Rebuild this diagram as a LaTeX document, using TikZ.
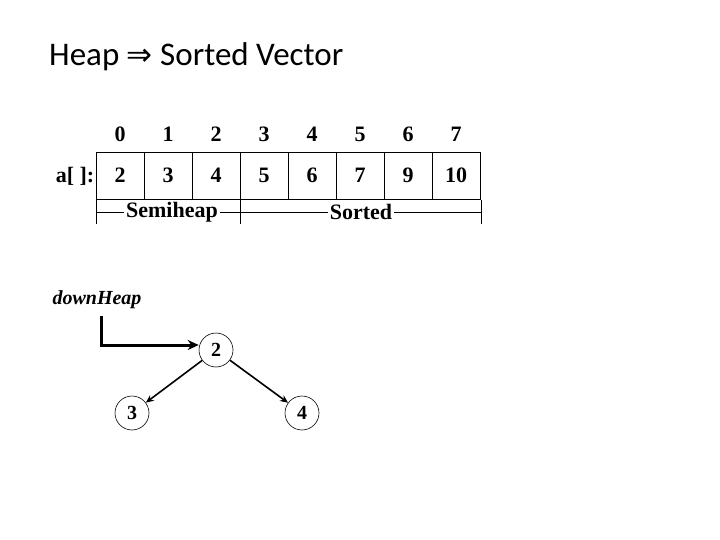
\documentclass[tikz,border=0pt]{standalone}
\usepackage{fontspec}
\setmainfont{Liberation Serif}
\newfontfamily\titlefont{Carlito}
\newfontfamily\symfont{DejaVu Sans}
\usetikzlibrary{arrows.meta}
\begin{document}
\begin{tikzpicture}[x=1pt,y=-1pt,
  cellbox/.style={draw,line width=0.8pt,minimum width=48pt,minimum height=47pt,inner sep=0pt,font=\fontsize{22}{24}\selectfont\bfseries},
  idx/.style={inner sep=0pt,font=\fontsize{22}{24}\selectfont\bfseries},
  lbl/.style={fill=white,inner sep=2pt,font=\fontsize{22}{24}\selectfont\bfseries},
  hnode/.style={draw,circle,line width=0.6pt,minimum size=34pt,inner sep=0pt,font=\fontsize{20}{22}\selectfont\bfseries},
  edge/.style={line width=1.6pt,-{Stealth[length=8pt,width=7pt]}}
]
\useasboundingbox (0,0) rectangle (720,540);
\node[anchor=west,inner sep=0pt,font=\titlefont\fontsize{33}{36}\selectfont] (title) at (49,57) {Heap {\symfont\fontsize{31}{34}\selectfont ⇒} Sorted Vector};
\foreach \i/\v in {0/2,1/3,2/4,3/5,4/6,5/7,6/9,7/10}{
  \node[cellbox] (c\i) at ({120+48*\i},175.5) {\v};
  \node[idx] (i\i) at ({120+48*\i},134.5) {\i};
}
\node[idx] (aname) at (75,176) {a[ ]:};
\coordinate (tl0) at (96,200);
\coordinate (tl1) at (96,224);
\coordinate (tm0) at (240,200);
\coordinate (tm1) at (240,224);
\coordinate (tr0) at (481,200);
\coordinate (tr1) at (481,224);
\draw[line width=0.8pt] (tl0) -- (tl1);
\draw[line width=0.8pt] (tm0) -- (tm1);
\draw[line width=0.8pt] (tr0) -- (tr1);
\coordinate (hl) at (96,212);
\coordinate (hr) at (481,212);
\draw[line width=0.8pt] (hl) -- (hr);
\node[lbl] (semi) at (172,212) {Semiheap};
\node[lbl] (sorted) at (361,212) {Sorted};
\node[inner sep=0pt,font=\fontsize{20}{22}\selectfont\bfseries\itshape] (dh) at (97,300) {downHeap};
\node[hnode] (n2) at (216,350) {2};
\node[hnode] (n3) at (132,413) {3};
\node[hnode] (n4) at (302,413) {4};
\coordinate (a0) at (101,316);
\coordinate (a1) at (101,345);
\draw[line width=3pt,-{Stealth[length=11pt,width=10pt]}] (a0) -- (a1) -- (n2.west |- a1);
\draw[edge] (n2) -- (n3);
\draw[edge] (n2) -- (n4);
\end{tikzpicture}
\end{document}
